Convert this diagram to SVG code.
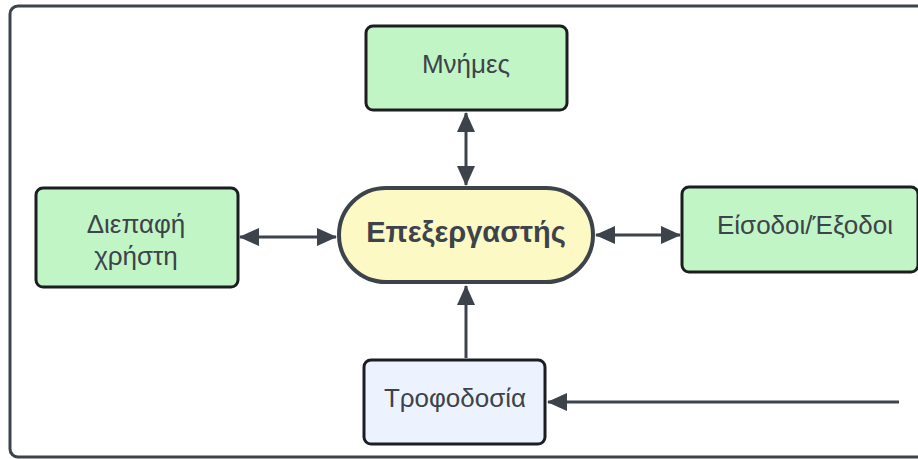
<svg xmlns="http://www.w3.org/2000/svg" width="918" height="459" viewBox="0 0 918 459">
  <style>
    .frame { fill: #ffffff; stroke: #3d434b; stroke-width: 3; }
    .box { stroke: #1b1d21; stroke-width: 3; }
    .green { fill: #c2f5c6; }
    .pill { fill: #fdf9c4; stroke: #3d434b; stroke-width: 4; }
    .power { fill: #edf3fe; }
    .lbl { font-family: "Liberation Sans", Arial, sans-serif; font-size: 26px; fill: #3d434b; text-anchor: middle; }
    .bold { font-weight: bold; font-size: 29px; }
    .wire { stroke: #3d434b; stroke-width: 3; fill: none; }
  </style>
  <defs>
    <marker id="head" viewBox="0 0 20 18" refX="19" refY="9" markerWidth="20" markerHeight="18" markerUnits="userSpaceOnUse" orient="auto-start-reverse">
      <path d="M0,0 L20,9 L0,18 Z" fill="#3d434b"/>
    </marker>
  </defs>

  <rect class="frame" x="10" y="6" width="930" height="451" rx="8"/>

  <g id="connectors">
    <line class="wire" x1="466" y1="113" x2="466" y2="185" marker-start="url(#head)" marker-end="url(#head)"/>
    <line class="wire" x1="240" y1="237" x2="336" y2="237" marker-start="url(#head)" marker-end="url(#head)"/>
    <line class="wire" x1="596" y1="235" x2="680" y2="235" marker-start="url(#head)" marker-end="url(#head)"/>
    <line class="wire" x1="466" y1="358" x2="466" y2="286" marker-end="url(#head)"/>
    <line class="wire" x1="899" y1="402" x2="548" y2="402" marker-end="url(#head)"/>
  </g>

  <g id="memory">
    <rect class="box green" x="366" y="26" width="201" height="84" rx="7"/>
    <text class="lbl" x="466" y="73">Μνήμες</text>
  </g>

  <g id="processor">
    <rect class="pill" x="339" y="188" width="254" height="94" rx="47"/>
    <text class="lbl bold" x="466" y="242">Επεξεργαστής</text>
  </g>

  <g id="user-interface">
    <rect class="box green" x="36" y="188" width="202" height="99" rx="7"/>
    <text class="lbl" x="136" y="233">Διεπαφή</text>
    <text class="lbl" x="136" y="265">χρήστη</text>
  </g>

  <g id="io">
    <rect class="box green" x="682" y="187" width="236" height="85" rx="7"/>
    <text class="lbl" x="805" y="234">Είσοδοι/Έξοδοι</text>
  </g>

  <g id="power">
    <rect class="box power" x="364" y="360" width="181" height="84" rx="7"/>
    <text class="lbl" x="455" y="407">Τροφοδοσία</text>
  </g>
</svg>
